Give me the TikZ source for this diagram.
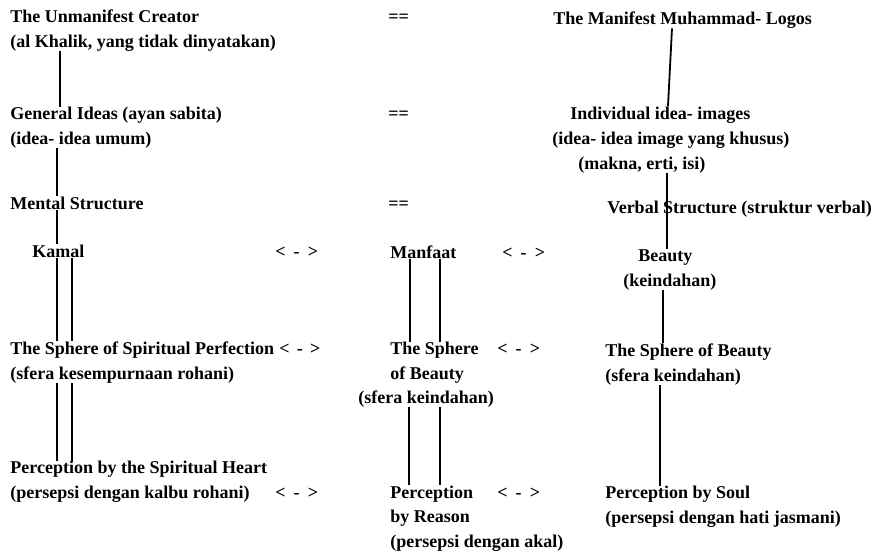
\documentclass[tikz,border=0pt]{standalone}
\usepackage{fontspec}
\setmainfont{Liberation Serif}
\tikzset{
  txt/.style={font=\bfseries\fontsize{9}{12.25}\selectfont, inner sep=0pt, align=left, anchor=base west},
  link/.style={line width=0.9pt}
}
\begin{document}
\begin{tikzpicture}[x=0.5pt, y=-0.5pt]
\useasboundingbox (0,0) rectangle (880,552);
% left column
\node[txt] (ucr) at (10,47) {The Unmanifest Creator\\(al Khalik, yang tidak dinyatakan)};
\node[txt] (gid) at (10,144) {General Ideas (ayan sabita)\\(idea- idea umum)};
\node[txt] (mst) at (10,209) {Mental Structure};
\node[txt] (kml) at (32,257) {Kamal};
\node[txt] (ssp) at (10,379) {The Sphere of Spiritual Perfection\\(sfera kesempurnaan rohani)};
\node[txt] (psh) at (10,498) {Perception by the Spiritual Heart\\(persepsi dengan kalbu rohani)};
\node[txt] (lra) at (275,257) {<\hspace{.45em}-\hspace{.45em}>};
\node[txt] (lrb) at (279,354) {<\hspace{.4em}-\hspace{.4em}>};
\node[txt] (lrc) at (275,498) {<\hspace{.45em}-\hspace{.45em}>};
% middle column
\node[txt] (eqa) at (388,22) {==};
\node[txt] (eqb) at (388,119) {==};
\node[txt] (eqc) at (388,209) {==};
\node[txt] (mnf) at (390,258) {Manfaat};
\node[txt] (sob) at (390,379) {The Sphere\\of Beauty};
\node[txt] (sfk) at (358,403) {(sfera keindahan)};
\node[txt] (pcr) at (390,547) {Perception\\by Reason\\(persepsi dengan akal)};
\node[txt] (lrd) at (502,258) {<\hspace{.45em}-\hspace{.45em}>};
\node[txt] (lre) at (497,354) {<\hspace{.45em}-\hspace{.45em}>};
\node[txt] (lrf) at (497,498) {<\hspace{.45em}-\hspace{.45em}>};
% right column
\node[txt] (mml) at (553,24) {The Manifest Muhammad- Logos};
\node[txt] (iia) at (570,119) {Individual idea- images};
\node[txt] (iib) at (552,144) {(idea- idea image yang khusus)};
\node[txt] (iic) at (578,169) {(makna, erti, isi)};
\node[txt] (vbs) at (607,213) {Verbal Structure (struktur verbal)};
\node[txt] (bty) at (638,261) {Beauty};
\node[txt] (bka) at (623,286) {(keindahan)};
\node[txt] (sbr) at (605,381) {The Sphere of Beauty\\(sfera keindahan)};
\node[txt] (pso) at (605,523) {Perception by Soul\\(persepsi dengan hati jasmani)};
% links
\draw[link] (ucr.south -| 60,0) -- (gid.north -| 60,0);
\draw[link] (gid.south -| 57,0) -- (mst.north -| 57,0);
\draw[link] (mst.south -| 57,0) -- (kml.north -| 57,0);
\draw[link] (kml.south -| 57,0) -- (ssp.north -| 57,0);
\draw[link] (kml.south -| 72,0) -- (ssp.north -| 72,0);
\draw[link] (ssp.south -| 57,0) -- (psh.north -| 57,0);
\draw[link] (ssp.south -| 72,0) -- (psh.north -| 72,0);
\draw[link] (mnf.south -| 410,0) -- (sob.north -| 410,0);
\draw[link] (mnf.south -| 440,0) -- (sob.north -| 440,0);
\draw[link] (sfk.south -| 409,0) -- (pcr.north -| 409,0);
\draw[link] (sfk.south -| 440,0) -- (pcr.north -| 440,0);
\draw[link] (mml.south -| 672,0) -- (iia.north -| 668,0);
\draw[link] (iic.south -| 667,0) -- (bty.north -| 667,0);
\draw[link] (bka.south -| 663,0) -- (sbr.north -| 663,0);
\draw[link] (sbr.south -| 660,0) -- (pso.north -| 660,0);
\end{tikzpicture}
\end{document}
